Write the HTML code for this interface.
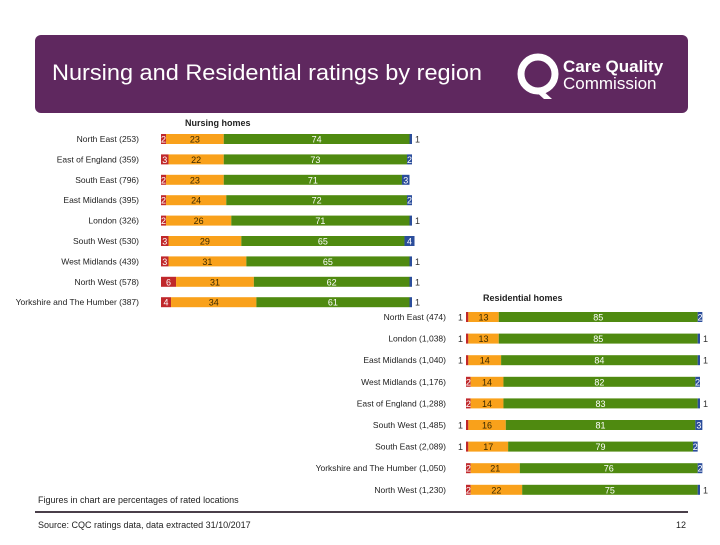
<!DOCTYPE html>
<html><head><meta charset="utf-8"><style>
body{margin:0;background:#fff;width:720px;height:540px;overflow:hidden;font-family:"Liberation Sans",sans-serif}
</style></head><body>
<svg width="720" height="540" xmlns="http://www.w3.org/2000/svg">
<rect x="35" y="35" width="653" height="78" rx="6" fill="#5f285f"/>
<text x="52" y="80" fill="#fff" font-size="22" textLength="430" lengthAdjust="spacingAndGlyphs">Nursing and Residential ratings by region</text>
<g>
<circle cx="538" cy="74" r="17" fill="none" stroke="#fff" stroke-width="7"/>
<path d="M540 88 L552 99 L544 99 L534 90 Z" fill="#fff"/>
<text x="563" y="72" fill="#fff" font-size="17" font-weight="bold">Care Quality</text>
<text x="563" y="89" fill="#fff" font-size="17">Commission</text>
</g>
<g id="nursing"></g>
<g id="resid"></g>
<text x="38" y="503" font-size="9" fill="#222">Figures in chart are percentages of rated locations</text>
<rect x="35" y="511" width="653" height="2" fill="#4a3f4a"/>
<text x="38" y="528" font-size="9" fill="#222">Source: CQC ratings data, data extracted 31/10/2017</text>
<text x="686" y="528" font-size="9" fill="#222" text-anchor="end">12</text>
</svg>
<script>
const nCats=["North East (253)","East of England (359)","South East (796)","East Midlands (395)","London (326)","South West (530)","West Midlands (439)","North West (578)","Yorkshire and The Humber (387)"];
const nInad=[2,3,2,2,2,3,3,6,4];
const nReq=[23,22,23,24,26,29,31,31,34];
const nGood=[74,73,71,72,71,65,65,62,61];
const nOut=[1,2,3,2,1,4,1,1,1];
const rCats=["North East (474)","London (1,038)","East Midlands (1,040)","West Midlands (1,176)","East of England (1,288)","South West (1,485)","South East (2,089)","Yorkshire and The Humber (1,050)","North West (1,230)"];
const rInad=[1,1,1,2,2,1,1,2,2];
const rReq=[13,13,14,14,14,16,17,21,22];
const rGood=[85,85,84,82,83,81,79,76,75];
const rOut=[2,1,1,2,1,3,2,2,1];
const colors=["#c0282b","#f9a11b","#4f8a10","#2b4d9b"];
const txtCol=["#fff","#3a2a00","#fff","#fff"];
const NS="http://www.w3.org/2000/svg";
function mk(tag,attrs,parent){const e=document.createElementNS(NS,tag);for(const k in attrs)e.setAttribute(k,attrs[k]);parent.appendChild(e);return e;}
function draw(g,title,titleX,titleY,cats,series,x0,w,y0,step,labelX,names){
  const t=mk("text",{x:titleX,y:titleY,"font-size":9,"font-weight":"bold",fill:"#222"},g);t.textContent=title;
  
  
  const sx=v=>v/100*w;
  cats.forEach((c,i)=>{
    const yc=y0+i*step;
    const l=mk("text",{x:labelX,y:yc+3,"font-size":8.5,fill:"#222","text-anchor":"end"},g);l.textContent=c;
    
    
    let x=x0;
    series.forEach((s,k)=>{
      const v=s[i];const bw=sx(v);
      const r=mk("rect",{x:x,y:yc-5,width:bw,height:10,fill:colors[k]},g);
      
      
      let tx=x+bw/2,col=txtCol[k],anchor="middle";
      if(v<=1){ if(k==0){tx=x-3;anchor="end";}else{tx=x+bw+3;anchor="start";} col="#333"; }
      const vt=mk("text",{x:tx,y:yc+3.5,"font-size":9,fill:col,"text-anchor":anchor},g);vt.textContent=v;
      
      
      x+=bw;
    });
  });
}
const names=["inadequate","requires-improvement","good","outstanding"];
draw(document.getElementById("nursing"),"Nursing homes",185,126,nCats,[nInad,nReq,nGood,nOut],161,251,139,20.4,139,names);
draw(document.getElementById("resid"),"Residential homes",483,301,rCats,[rInad,rReq,rGood,rOut],466,234,317,21.6,446,names);
</script>
</body></html>
